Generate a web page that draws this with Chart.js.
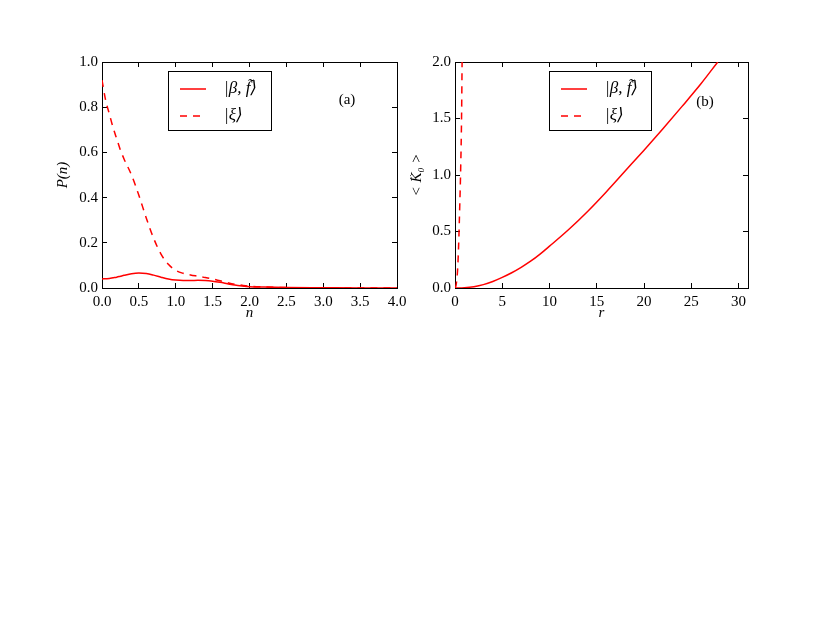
<!DOCTYPE html>
<html><head><meta charset="utf-8">
<script src="https://cdn.jsdelivr.net/npm/chart.js@4.4.0/dist/chart.umd.min.js"></script>
<style>
html,body{margin:0;padding:0;background:#fff;}
#wrap{position:relative;width:830px;height:623px;overflow:hidden;}
.pane{position:absolute;top:0;}
</style></head><body>
<div id="wrap">
<div class="pane" style="left:0;"><canvas id="c1" width="410" height="623"></canvas></div>
<div class="pane" style="left:410px;"><canvas id="c2" width="420" height="623"></canvas></div>
</div>
<script>
// ---------- data ----------
const nValues  = [0, 0.05, 0.1, 0.15, 0.2, 0.25, 0.3, 0.4, 0.5, 0.6, 0.7, 0.8, 0.9, 1.0, 1.1, 1.2, 1.3, 1.4, 1.5, 1.6, 1.7, 1.8, 1.9, 2.0, 2.2, 2.5, 3.0, 3.5, 4.0];
const pDashed  = [0.92, 0.83, 0.77, 0.71, 0.66, 0.61, 0.57, 0.50, 0.41, 0.31, 0.22, 0.15, 0.105, 0.078, 0.065, 0.058, 0.052, 0.046, 0.040, 0.032, 0.024, 0.017, 0.012, 0.008, 0.005, 0.002, 0.0005, 0, 0];
const pSolid   = [0.040, 0.041, 0.042, 0.045, 0.048, 0.052, 0.056, 0.063, 0.066, 0.064, 0.057, 0.048, 0.040, 0.035, 0.033, 0.033, 0.034, 0.033, 0.030, 0.025, 0.019, 0.013, 0.009, 0.006, 0.004, 0.002, 0.001, 0, 0];

const rSolid   = [0, 1, 2, 3, 4, 5, 6, 7, 8, 9, 10, 12, 14, 16, 18, 20, 22, 24, 26, 27.8];
const kSolid   = [0, 0.003, 0.012, 0.03, 0.058, 0.094, 0.135, 0.183, 0.237, 0.30, 0.37, 0.515, 0.675, 0.85, 1.035, 1.22, 1.41, 1.605, 1.805, 2.0];
const rDashed  = [0, 0.1, 0.2, 0.3, 0.4, 0.5, 0.6, 0.7, 0.75];
const kDashed  = [0, 0.02, 0.08, 0.2, 0.42, 0.72, 1.05, 1.55, 2.0];

const nTicks   = [0, 0.5, 1.0, 1.5, 2.0, 2.5, 3.0, 3.5, 4.0];
const pTicks   = [0, 0.2, 0.4, 0.6, 0.8, 1.0];
const rTicks   = [0, 5, 10, 15, 20, 25, 30];
const kTicks   = [0, 0.5, 1.0, 1.5, 2.0];

const legendLabels = ['|\u03b2, f\u0303\u27e9', '|\u03be\u27e9'];
const panelTags    = ['(a)', '(b)'];
const axisTitles   = { leftX: 'n', leftY: 'P(n)', rightX: 'r', rightY: '< K\u0302\u2080 >' };

// ---------- helpers ----------
const RED = '#ff0000';
const FONT = "'Liberation Serif', 'DejaVu Serif', serif";
const pts = (xs, ys) => xs.map((x, i) => ({ x: x, y: ys[i] }));

function axis(axisName, pos, min, max, tickArr, showLabels, size, fmt, title, titlePad) {
  const horiz = (pos === 'top' || pos === 'bottom');
  return {
    type: 'linear', axis: axisName, position: pos, min: min, max: max,
    afterBuildTicks: s => { s.ticks = tickArr.map(v => ({ value: v })); },
    grid: { drawOnChartArea: false, drawTicks: true, tickLength: -5, color: '#000', lineWidth: 1 },
    border: { display: true, color: '#000', width: 1 },
    ticks: {
      display: showLabels, autoSkip: false, maxRotation: 0, minRotation: 0,
      font: { family: FONT, size: 15 }, color: '#000',
      padding: horiz ? 10 : 9,
      callback: v => fmt(v)
    },
    title: title ? {
      display: true, text: title, color: '#000',
      font: { family: FONT, size: 15, style: 'italic', lineHeight: 1 },
      padding: titlePad
    } : { display: false },
    afterFit: s => {
      if (horiz) s.height = size; else s.width = size;
      s.paddingLeft = s.paddingRight = s.paddingTop = s.paddingBottom = 0;
    }
  };
}

const boxLegend = {
  id: 'boxLegend',
  afterDatasetsDraw(chart, args, o) {
    const ctx = chart.ctx, a = chart.chartArea;
    const bx = a.left + o.x, by = a.top + o.y;
    ctx.save();
    ctx.fillStyle = '#fff';
    ctx.fillRect(bx, by, o.w, o.h);
    ctx.strokeStyle = '#000';
    ctx.lineWidth = 1;
    ctx.strokeRect(Math.round(bx) + 0.5, Math.round(by) + 0.5, o.w, o.h);
    chart.data.datasets.forEach((ds, i) => {
      const yy = by + 18 + i * 27;
      ctx.beginPath();
      ctx.strokeStyle = ds.borderColor;
      ctx.lineWidth = ds.borderWidth;
      ctx.setLineDash(ds.borderDash || []);
      ctx.moveTo(bx + 12, yy);
      ctx.lineTo(bx + 38, yy);
      ctx.stroke();
      ctx.setLineDash([]);
      ctx.fillStyle = '#000';
      ctx.font = 'italic 17px ' + FONT;
      ctx.textBaseline = 'middle';
      ctx.textAlign = 'left';
      ctx.fillText(ds.label, bx + 56, yy);
    });
    ctx.font = '15px ' + FONT;
    ctx.textAlign = 'center';
    ctx.textBaseline = 'middle';
    ctx.fillStyle = '#000';
    ctx.fillText(o.tag, a.left + o.tagX, a.top + o.tagY);
    ctx.restore();
  }
};

function lineDs(label, data, dashed) {
  return {
    label: label, data: data, borderColor: RED, backgroundColor: RED,
    borderWidth: 1.5, borderDash: dashed ? [7, 6] : [], pointRadius: 0,
    showLine: true, fill: false, cubicInterpolationMode: 'monotone'
  };
}

const fmt1 = v => Number(v).toFixed(1);
const fmt0 = v => String(Math.round(v));

// ---------- panel (a) ----------
new Chart(document.getElementById('c1'), {
  type: 'scatter',
  data: { datasets: [
    lineDs(legendLabels[0], pts(nValues, pSolid), false),
    lineDs(legendLabels[1], pts(nValues, pDashed), true)
  ]},
  options: {
    responsive: false, animation: false, devicePixelRatio: 1,
    layout: { padding: { left: 0, right: 13, top: 62, bottom: 295 } },
    plugins: {
      legend: { display: false }, tooltip: { enabled: false },
      boxLegend: { x: 66, y: 9, w: 103, h: 59, tag: panelTags[0], tagX: 245, tagY: 38 }
    },
    scales: {
      x:  axis('x', 'bottom', 0, 4, nTicks, true, 40, fmt1, axisTitles.leftX, { top: 0, bottom: 7 }),
      x2: axis('x', 'top', 0, 4, nTicks, false, 0, fmt1, null),
      y:  axis('y', 'left', 0, 1, pTicks, true, 102, fmt1, axisTitles.leftY, { top: 56, bottom: 0 }),
      y2: axis('y', 'right', 0, 1, pTicks, false, 0, fmt1, null)
    }
  },
  plugins: [boxLegend]
});

// ---------- panel (b) ----------
new Chart(document.getElementById('c2'), {
  type: 'scatter',
  data: { datasets: [
    lineDs(legendLabels[0], pts(rSolid, kSolid), false),
    lineDs(legendLabels[1], pts(rDashed, kDashed), true)
  ]},
  options: {
    responsive: false, animation: false, devicePixelRatio: 1,
    layout: { padding: { left: 0, right: 82, top: 62, bottom: 295 } },
    plugins: {
      legend: { display: false }, tooltip: { enabled: false },
      boxLegend: { x: 94, y: 9, w: 102, h: 59, tag: panelTags[1], tagX: 250, tagY: 40 }
    },
    scales: {
      x:  axis('x', 'bottom', 0, 31, rTicks, true, 40, fmt0, axisTitles.rightX, { top: 0, bottom: 7 }),
      x2: axis('x', 'top', 0, 31, rTicks, false, 0, fmt0, null),
      y:  axis('y', 'left', 0, 2, kTicks, true, 45, fmt1, axisTitles.rightY, { top: 0, bottom: 0 }),
      y2: axis('y', 'right', 0, 2, kTicks, false, 0, fmt1, null)
    }
  },
  plugins: [boxLegend]
});
</script>
</body></html>
